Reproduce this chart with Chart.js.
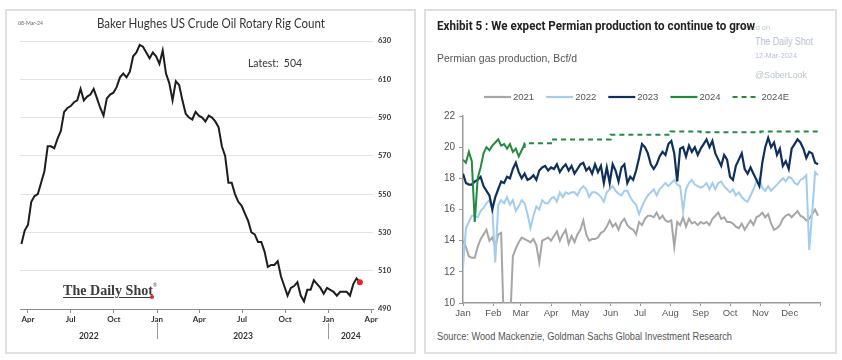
<!DOCTYPE html>
<html><head><meta charset="utf-8">
<script src="https://cdn.jsdelivr.net/npm/chart.js@4.4.1/dist/chart.umd.min.js"></script>
<style>
html,body{margin:0;padding:0;background:#fff;}
body{width:842px;height:360px;position:relative;overflow:hidden;font-family:'Liberation Sans',Arial,sans-serif;}
.panel{position:absolute;border:2px solid #e0e0e0;box-sizing:border-box;background:#fff;}
.t{position:absolute;white-space:pre;transform-origin:0 50%;line-height:1;}
canvas{position:absolute;}
</style></head><body>
<div class="panel" style="left:5px;top:9px;width:411px;height:345px"></div>
<div class="panel" style="left:424px;top:9px;width:413px;height:345px"></div>
<canvas id="rig" width="409" height="343" style="left:6px;top:10px;width:409px;height:343px"></canvas>
<canvas id="gas" width="411" height="237" style="left:425px;top:86px;width:411px;height:237px"></canvas>

<div class="t" data-x="18" data-y="23" data-w="25" style="font-size:5px;color:#666;font-family:Lato">08-Mar-24</div>
<div class="t" data-x="97" data-y="23" data-w="228" style="font-size:13px;color:#333;font-family:Lato">Baker Hughes US Crude Oil Rotary Rig Count</div>
<div class="t" data-x="248" data-y="62" data-w="54" style="font-size:11px;color:#333;font-family:Lato">Latest:  504</div>
<div class="t" data-x="63" data-y="290" data-w="90" style="font-size:15px;color:#3c3c3c;font-family:'Liberation Serif',serif;font-weight:bold;text-decoration:underline;text-decoration-thickness:1px;text-underline-offset:2px;">The Daily Shot</div>
<div class="t" data-x="153" data-y="285" style="font-size:5px;color:#555;font-family:Lato">®</div>
<div style="position:absolute;left:150px;top:295px;width:4px;height:4px;border-radius:2px;background:#e0262c"></div>

<div class="t" data-x="737" data-y="28" data-w="33" style="font-size:8px;color:#b8c2d0;">Posted on</div>
<div class="t" data-x="437" data-y="25" data-w="318" style="font-size:13px;color:#222;font-family:Roboto;font-weight:bold;">Exhibit 5 : We expect Permian production to continue to grow</div>
<div class="t" data-x="755" data-y="42" data-w="58" style="font-size:10px;color:#b8c2d0;">The Daily Shot</div>
<div class="t" data-x="755" data-y="55" data-w="42" style="font-size:7px;color:#b8c2d0;">12-Mar-2024</div>
<div class="t" data-x="755" data-y="75" data-w="52" style="font-size:9px;color:#b8c2d0;">@SoberLook</div>
<div class="t" data-x="437" data-y="58" data-w="140" style="font-size:11px;color:#555;">Permian gas production, Bcf/d</div>
<div class="t" data-x="437" data-y="337" data-w="295" style="font-size:10px;color:#555;">Source: Wood Mackenzie, Goldman Sachs Global Investment Research</div>

<script>
// ================= LEFT CHART DATA (weekly, from 18-Mar-2022 to 08-Mar-2024) =================
const rigStartDay = 76; // day index of 18-Mar-2022 counted from 1-Jan-2022
const rigCounts = [
  524,531,534,546,549,550,556,562,575,575,
  574,579,583,593,595,596,598,599,605,599,
  601,602,605,600,595,591,600,602,603,606,
  611,613,611,614,622,624,628,627,624,621,
  624,622,618,625,613,608,599,609,607,599,
  592,590,589,593,591,590,588,591,590,588,
  585,575,570,556,556,550,546,544,540,536,
  530,529,525,525,520,512,513,513,515,507,
  502,497,501,502,504,497,494,500,500,505,
  503,501,498,501,500,499,497,499,499,499,
  497,503,506,504
];
const rigTickDays = [90,181,273,365,455,546,638,730,821];
const rigTickLabels = ['Apr','Jul','Oct','Jan','Apr','Jul','Oct','Jan','Apr'];
const rigYTicks = [490,510,530,550,570,590,610,630];
const rigYearBreaks = [365,730];
const rigYearLabels = ['2022','2023','2024'];

// ================= RIGHT CHART DATA (day of year, sampled every 3 days) =================
const sampleDays = Array.from({length:122},(_,i)=>i*3);
const gas2021 = [
  14.0,13.6,13.0,12.9,12.9,13.6,14.1,14.4,14.7,14.0,
  14.2,13.6,14.4,14.5,8.0,7.0,8.5,13.0,13.5,13.9,
  14.2,14.1,14.0,13.9,14.1,13.7,12.6,14.0,14.1,14.2,
  14.0,14.3,14.6,14.0,14.4,14.7,13.8,14.3,13.9,14.4,
  14.7,15.3,14.4,14.0,14.1,14.1,14.2,14.5,14.6,14.9,
  15.3,14.9,15.1,14.7,15.2,15.4,15.0,14.8,14.7,14.4,
  15.2,15.0,15.4,15.6,15.6,15.5,15.8,15.4,15.6,15.3,
  15.2,15.3,13.6,15.2,15.0,15.5,14.9,15.4,15.1,15.2,
  15.0,15.2,15.1,15.2,15.0,15.4,15.6,15.8,15.4,15.5,
  15.2,15.2,15.1,14.9,14.8,15.1,14.7,15.0,15.3,15.0,
  15.5,15.6,15.8,15.5,15.7,15.1,14.7,14.8,15.0,15.4,
  15.6,15.7,15.5,15.7,15.9,15.6,15.5,15.3,15.4,15.7,
  16.0,15.6
];
const gas2022 = [
  12.3,14.8,15.2,15.6,15.6,15.5,15.9,16.1,16.4,16.6,
  16.0,12.6,16.3,16.6,16.4,16.8,16.3,16.6,15.9,16.2,
  16.6,16.4,15.7,14.8,15.6,16.2,16.0,16.6,16.4,16.4,
  16.7,16.8,16.5,17.1,16.8,17.1,17.0,17.1,17.1,16.9,
  17.3,17.5,17.3,16.8,17.1,17.1,17.0,16.8,16.5,17.1,
  17.3,17.5,17.2,17.0,16.9,17.2,17.2,16.8,16.5,16.3,
  15.7,16.2,16.6,16.9,17.1,17.3,16.9,17.3,17.5,17.7,
  17.5,17.7,17.9,17.6,17.5,15.9,17.3,17.7,17.9,17.6,
  17.5,17.4,17.5,17.7,17.3,17.7,17.3,17.7,17.8,17.5,
  17.3,17.1,17.3,16.9,17.1,16.8,16.6,16.5,16.9,17.3,
  17.8,18.0,17.4,17.2,17.5,17.2,17.4,17.6,17.8,18.0,
  17.8,18.1,18.0,17.7,17.6,17.9,18.0,18.2,13.4,15.8,
  18.4,18.2
];
const gas2023 = [
  18.3,17.7,17.6,17.6,17.8,17.9,18.1,17.5,17.2,16.9,
  16.0,16.8,17.3,17.8,17.7,18.1,18.0,18.6,19.0,18.4,
  18.0,18.3,17.9,18.0,18.2,17.9,18.5,18.7,18.8,18.5,
  18.7,18.6,18.9,18.4,18.7,18.9,18.5,18.8,18.3,18.6,
  18.9,19.0,18.5,18.7,18.3,18.9,18.4,18.8,17.7,18.7,
  17.7,18.9,18.5,17.8,18.7,18.9,17.7,18.1,17.9,18.5,
  19.3,20.2,20.0,19.6,18.9,18.6,18.9,19.4,19.7,19.5,
  20.2,20.4,19.6,17.8,19.9,20.0,19.4,20.1,19.7,20.0,
  19.5,19.9,20.2,20.5,20.0,20.4,19.6,19.2,18.8,19.5,
  19.2,18.1,17.9,18.8,19.2,19.6,18.6,18.3,18.7,18.3,
  17.9,17.5,19.0,20.0,20.6,20.0,20.3,19.5,19.9,18.8,
  19.1,18.6,19.9,20.2,20.5,20.3,19.9,19.3,19.7,19.6,
  19.0,18.9
];
const gas2024 = [
  19.2,19.0,19.7,19.1,15.2,18.0,18.7,19.6,20.0,19.8,
  20.1,20.3,20.5,20.1,20.2,19.9,20.2,19.7,19.9,19.4,
  19.8,20.2
];
const estDays = [63,90,151,212,243,304,334,365];
const gas2024E = [19.95,20.25,20.5,20.8,21.0,20.95,21.0,21.0];
const monthTickDays = [0,31,59,90,120,151,181,212,243,273,304,334,365];
const monthLabels = ['Jan','Feb','Mar','Apr','May','Jun','Jul','Aug','Sep','Oct','Nov','Dec',''];
const gasYTicks = [10,12,14,16,18,20,22];

// ================= TEXT FITTING =================
function placeTexts(){
  document.querySelectorAll('.t').forEach(el=>{
    el.style.transform='none';
    const h = el.offsetHeight;
    el.style.left = el.dataset.x+'px';
    el.style.top = (parseFloat(el.dataset.y) - h/2)+'px';
    if (el.dataset.w){
      const w = el.getBoundingClientRect().width;
      el.style.transform = 'scaleX('+(parseFloat(el.dataset.w)/w)+')';
    }
  });
}
placeTexts();
if (document.fonts && document.fonts.ready) document.fonts.ready.then(placeTexts);

// ================= LEFT CHART =================
const yearPlugin = {
  id:'years',
  afterDraw(chart){
    const ctx = chart.ctx, xs = chart.scales.x, ca = chart.chartArea;
    ctx.save();
    ctx.strokeStyle = '#9a9a9a'; ctx.lineWidth = 1;
    const edges = [ca.left];
    rigYearBreaks.forEach(d=>{
      const px = Math.round(xs.getPixelForValue(d))+0.5;
      edges.push(px);
      ctx.beginPath(); ctx.moveTo(px, ca.bottom+14); ctx.lineTo(px, ca.bottom+30); ctx.stroke();
    });
    edges.push(ca.right);
    ctx.fillStyle = '#333';
    ctx.font = 'bold 8.5px Lato';
    ctx.textAlign = 'center'; ctx.textBaseline = 'middle';
    rigYearLabels.forEach((lab,i)=>{
      ctx.fillText(lab, (edges[i]+edges[i+1])/2, ca.bottom+27);
    });
    ctx.restore();
  }
};

new Chart(document.getElementById('rig'), {
  type:'line',
  data:{datasets:[
    {label:'Latest', data:[{x: rigStartDay+7*(rigCounts.length-1), y: rigCounts[rigCounts.length-1]}],
     borderColor:'#e0262c', backgroundColor:'#e0262c', pointRadius:3, pointBorderWidth:0, showLine:false, order:0},
    {label:'Rig count', data: rigCounts.map((v,i)=>({x: rigStartDay+7*i, y: v})),
     borderColor:'#1d1d1d', borderWidth:2, pointRadius:0, tension:0, order:1}
  ]},
  options:{
    responsive:false, animation:false, devicePixelRatio:1,
    layout:{padding:{left:14,right:12,top:31,bottom:0}},
    plugins:{legend:{display:false}, tooltip:{enabled:false}},
    scales:{
      x:{type:'linear', min:73, max:825,
        afterBuildTicks:s=>{s.ticks = rigTickDays.map(v=>({value:v}));},
        afterFit:s=>{s.height=44;},
        ticks:{autoSkip:false, maxRotation:0, minRotation:0, padding:2, color:'#333',
          font:{family:'Lato', size:8, weight:'bold'},
          callback:(v,i)=>rigTickLabels[i]},
        grid:{drawOnChartArea:false, drawTicks:true, tickLength:4, color:'#8c8c8c'},
        border:{display:true, color:'#8c8c8c', width:1}},
      y:{position:'right', min:490, max:630,
        afterBuildTicks:s=>{s.ticks = rigYTicks.map(v=>({value:v}));},
        afterFit:s=>{s.width=30;},
        ticks:{padding:5, color:'#333', font:{family:'Lato', size:7.5, weight:'bold'}},
        grid:{color:'#e3e3e3', drawTicks:false, lineWidth:1},
        border:{display:false}}
    }
  },
  plugins:[yearPlugin]
});

// ================= RIGHT CHART =================
const legendPlugin = {
  id:'customLegend',
  afterDraw(chart){
    const ctx = chart.ctx;
    ctx.save();
    ctx.font = '9.5px "Liberation Sans", Arial';
    ctx.textBaseline = 'middle';
    let x = 59; const y = 11;
    chart.data.datasets.forEach(ds=>{
      ctx.strokeStyle = ds.borderColor; ctx.lineWidth = 2.2;
      ctx.setLineDash(ds.borderDash || []);
      ctx.beginPath(); ctx.moveTo(x, y); ctx.lineTo(x+27, y); ctx.stroke();
      ctx.setLineDash([]);
      x += 29;
      ctx.fillStyle = '#555';
      ctx.fillText(ds.label, x, y+0.5);
      x += ctx.measureText(ds.label).width + 12;
    });
    ctx.restore();
  }
};
const toXY = arr => arr.map((v,i)=>({x: sampleDays[i], y: v}));

new Chart(document.getElementById('gas'), {
  type:'line',
  data:{datasets:[
    {label:'2021', data:toXY(gas2021), borderColor:'#a6a6a6', borderWidth:2, order:4},
    {label:'2022', data:toXY(gas2022), borderColor:'#a3cdef', borderWidth:2, order:3},
    {label:'2023', data:toXY(gas2023), borderColor:'#0f2f5c', borderWidth:2.2, order:2},
    {label:'2024', data:toXY(gas2024), borderColor:'#248a40', borderWidth:2, order:0},
    {label:'2024E', data:gas2024E.map((v,i)=>({x:estDays[i], y:v})), borderColor:'#248a40', borderWidth:2, borderDash:[5,4], stepped:'after', order:1}
  ]},
  options:{
    responsive:false, animation:false, devicePixelRatio:1,
    elements:{point:{radius:0}, line:{tension:0}},
    layout:{padding:{left:0,right:16,top:30,bottom:0}},
    plugins:{legend:{display:false}, tooltip:{enabled:false}},
    scales:{
      x:{type:'linear', min:0, max:365,
        afterBuildTicks:s=>{s.ticks = monthTickDays.map(v=>({value:v}));},
        afterFit:s=>{s.height=20;},
        ticks:{autoSkip:false, maxRotation:0, minRotation:0, padding:2, color:'#555',
          font:{family:'Liberation Sans', size:9.5},
          callback:(v,i)=>monthLabels[i]},
        grid:{drawOnChartArea:false, drawTicks:true, tickLength:3, color:'#9a9a9a'},
        border:{display:true, color:'#9a9a9a', width:1.5}},
      y:{min:10, max:22,
        afterBuildTicks:s=>{s.ticks = gasYTicks.map(v=>({value:v}));},
        afterFit:s=>{s.width=38;},
        ticks:{padding:4, color:'#555', font:{family:'Liberation Sans', size:10}},
        grid:{drawOnChartArea:false, drawTicks:true, tickLength:4, color:'#9a9a9a'},
        border:{display:true, color:'#9a9a9a', width:1.5}}
    }
  },
  plugins:[legendPlugin]
});
</script>
</body></html>
